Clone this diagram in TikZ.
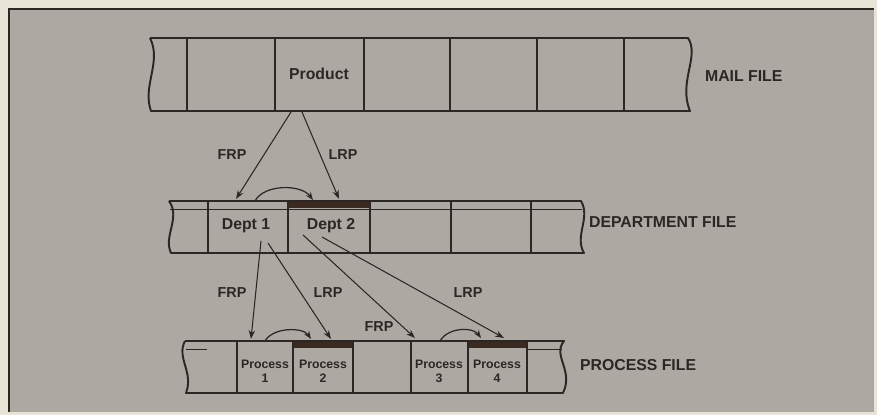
\documentclass[tikz,border=0pt]{standalone}
\usepackage{fontspec}
\setmainfont{Liberation Sans}
\usepackage{xcolor}
\usepackage{tikz}
\usetikzlibrary{arrows.meta,calc}

\definecolor{paper}{HTML}{E9E4D8}
\definecolor{page}{HTML}{ADA8A2}
\definecolor{ink}{HTML}{2C2724}
\definecolor{band}{HTML}{3A2A22}

\begin{document}
\begin{tikzpicture}[
  x=0.02cm, y=-0.02cm,
  every node/.style={font=\bfseries\fontsize{9}{10}\selectfont, text=ink, inner sep=1pt},
  strip/.style={draw=ink, line width=1.1pt, line join=round},
  divider/.style={draw=ink, line width=0.9pt},
  pointer/.style={-{Stealth[length=5pt,width=3.6pt]}, draw=ink, line width=0.6pt},
  link/.style={-{Stealth[length=4.5pt,width=3.4pt]}, draw=ink, line width=0.7pt},
  tag/.style={font=\bfseries\fontsize{8.2}{9}\selectfont},
  proctext/.style={font=\bfseries\fontsize{7}{8}\selectfont, align=center},
]

%% ── Page ─────────────────────────────────────────────────────────────────────
\fill[paper] (0,0) rectangle (877,415);
\fill[page] (9,9) rectangle (874,412);
\draw[ink, line width=1pt] (9,412) -- (9,9) -- (874,9);
\useasboundingbox (0,0) rectangle (877,415);

%% ════════════════════════════════════════════════════════════════════════════
%% MAIL FILE
%% ════════════════════════════════════════════════════════════════════════════
\draw[strip] (150,38) -- (688,38)
  .. controls (700,56) and (678,82) .. (690,111)
  -- (151,111)
  .. controls (142,86) and (162,62) .. (150,38);
\foreach \x in {187,275,364,450,537,624}
  \draw[divider] (\x,38) -- (\x,111);

\node (product) at (319,74) {Product};
\node[anchor=west] (mailfile) at (703,76) {MAIL FILE};

%% ════════════════════════════════════════════════════════════════════════════
%% DEPARTMENT FILE
%% ════════════════════════════════════════════════════════════════════════════
\fill[band] (288,201) rectangle (370,208);
\draw[ink, line width=0.4pt] (170,209) -- (582,209);
\draw[strip] (169,201) -- (581,201)
  .. controls (591,218) and (574,236) .. (584,253)
  -- (171,253)
  .. controls (163,236) and (181,218) .. (169,201);
\foreach \x in {208,288,370,451,531}
  \draw[divider] (\x,201) -- (\x,253);

\node (dept1) at (246,226) {Dept 1};
\node (dept2) at (331,226) {Dept 2};
\node[anchor=west] (deptfile) at (587,222) {DEPARTMENT FILE};

%% ════════════════════════════════════════════════════════════════════════════
%% PROCESS FILE
%% ════════════════════════════════════════════════════════════════════════════
\fill[band] (293,341) rectangle (353,348);
\fill[band] (468,341) rectangle (527,348);
\draw[ink, line width=0.4pt] (186,349) -- (207,349);
\draw[ink, line width=0.4pt] (527,349) -- (562,349);
\draw[strip] (185,341) -- (564,341)
  .. controls (552,356) and (574,370) .. (563,393)
  -- (186,393)
  .. controls (194,372) and (176,358) .. (185,341);
\foreach \x in {237,293,353,411,468,527}
  \draw[divider] (\x,341) -- (\x,393);

\node[proctext] (proc1) at (265,371) {Process\\1};
\node[proctext] (proc2) at (323,371) {Process\\2};
\node[proctext] (proc3) at (439,371) {Process\\3};
\node[proctext] (proc4) at (497,371) {Process\\4};
\node[anchor=west] (procfile) at (578,365) {PROCESS FILE};

%% ── Pointers: mail → department ─────────────────────────────────────────────
\draw[pointer] ($(product)+(-28,38)$) -- ($(dept1)+(-10,-27)$);
\draw[pointer] ($(product)+(-17,38)$) -- ($(dept2)+(8,-27)$);
\node[tag] (frpA) at (232,155) {FRP};
\node[tag] (lrpA) at (343,155) {LRP};

%% chain Dept 1 → Dept 2
\draw[link] ($(dept1)+(9,-25)$)
  .. controls ($(dept1)+(18,-42)$) and ($(dept2)+(-30,-42)$) .. ($(dept2)+(-18,-26)$);

%% ── Pointers: department → process ──────────────────────────────────────────
\draw[pointer] ($(dept1)+(15,15)$) -- ($(proc1)+(-14,-32)$);
\draw[pointer] ($(dept1)+(22,17)$) -- ($(proc2)+(8,-32)$);
\draw[pointer] ($(dept2)+(-28,9)$) -- ($(proc3)+(-24,-33)$);
\draw[pointer] ($(dept2)+(-9,11)$) -- ($(proc4)+(7,-33)$);
\node[tag] (frpB) at (232,293) {FRP};
\node[tag] (lrpB) at (328,293) {LRP};
\node[tag] (frpC) at (379,327) {FRP};
\node[tag] (lrpC) at (468,293) {LRP};

%% chains Process 1 → 2, Process 3 → 4
\draw[link] ($(proc1)+(0,-30)$)
  .. controls ($(proc1)+(8,-44)$) and ($(proc2)+(-20,-44)$) .. ($(proc2)+(-12,-32)$);
\draw[link] ($(proc3)+(1,-30)$)
  .. controls ($(proc3)+(9,-44)$) and ($(proc4)+(-24,-44)$) .. ($(proc4)+(-16,-33)$);

\end{tikzpicture}
\end{document}
